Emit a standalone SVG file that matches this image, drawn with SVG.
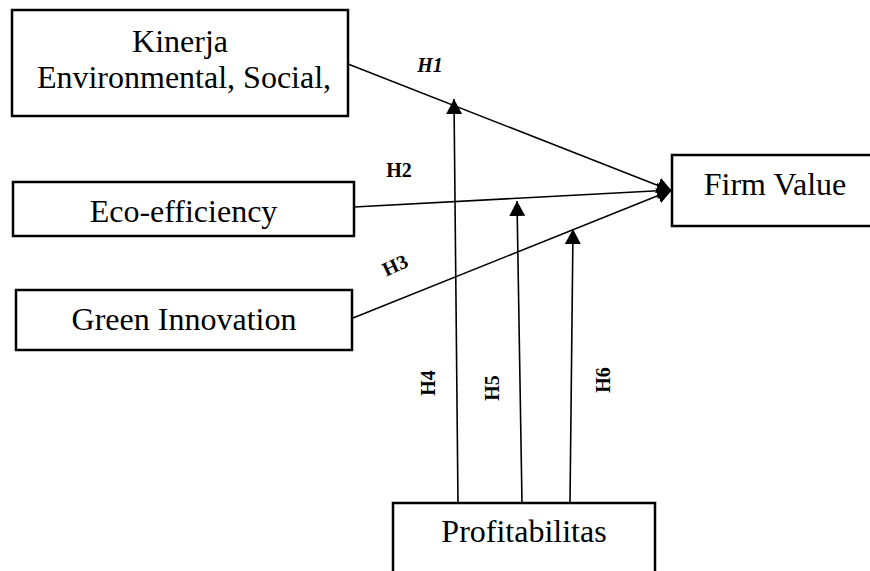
<svg xmlns="http://www.w3.org/2000/svg" width="870" height="571" viewBox="0 0 870 571">
  <style>
    .box { fill: #ffffff; stroke: #000000; stroke-width: 2.5; }
    .lbl { font-family: "Liberation Serif", "Times New Roman", serif; font-size: 32px; fill: #000000; text-anchor: middle; }
    .h { font-family: "Liberation Serif", "Times New Roman", serif; font-size: 20px; font-weight: bold; fill: #000000; text-anchor: middle; }
    .conn { stroke: #000000; stroke-width: 1.6; fill: none; marker-end: url(#arrow); }
  </style>
  <defs>
    <marker id="arrow" markerUnits="userSpaceOnUse" markerWidth="16" markerHeight="18" viewBox="0 0 16 18" refX="15" refY="9" orient="auto">
      <path d="M0,1 L15,9 L0,17 Z" fill="#000000"/>
    </marker>
  </defs>
  <rect width="870" height="571" fill="#ffffff"/>

  <g id="connectors">
    <line class="conn" x1="348" y1="64" x2="672" y2="191"/>
    <line class="conn" x1="354" y1="207" x2="672" y2="190"/>
    <line class="conn" x1="353" y1="318" x2="672" y2="190"/>
    <line class="conn" x1="458" y1="503" x2="454" y2="99"/>
    <line class="conn" x1="522" y1="503" x2="517" y2="201"/>
    <line class="conn" x1="570" y1="503" x2="573" y2="229"/>
    <text class="h" x="430" y="72" font-style="italic">H1</text>
    <text class="h" x="399" y="177">H2</text>
    <text class="h" transform="translate(395,265) rotate(-25)" y="7">H3</text>
    <text class="h" transform="translate(428,383) rotate(-90)" y="7">H4</text>
    <text class="h" transform="translate(492,388) rotate(-90)" y="7">H5</text>
    <text class="h" transform="translate(603,380) rotate(-90)" y="7">H6</text>
  </g>

  <g id="node-esg">
    <rect class="box" x="12" y="10" width="336" height="106"/>
    <text class="lbl" x="180" y="52">Kinerja</text>
    <text class="lbl" x="184" y="88">Environmental, Social,</text>
  </g>
  <g id="node-eco">
    <rect class="box" x="13" y="182" width="341" height="54"/>
    <text class="lbl" x="183.5" y="222">Eco-efficiency</text>
  </g>
  <g id="node-green">
    <rect class="box" x="16" y="290" width="336" height="60"/>
    <text class="lbl" x="184" y="330">Green Innovation</text>
  </g>
  <g id="node-firm">
    <rect class="box" x="672" y="155" width="210" height="71"/>
    <text class="lbl" x="775" y="195">Firm Value</text>
  </g>
  <g id="node-profit">
    <rect class="box" x="393" y="503" width="262" height="90"/>
    <text class="lbl" x="524" y="542">Profitabilitas</text>
  </g>
</svg>
